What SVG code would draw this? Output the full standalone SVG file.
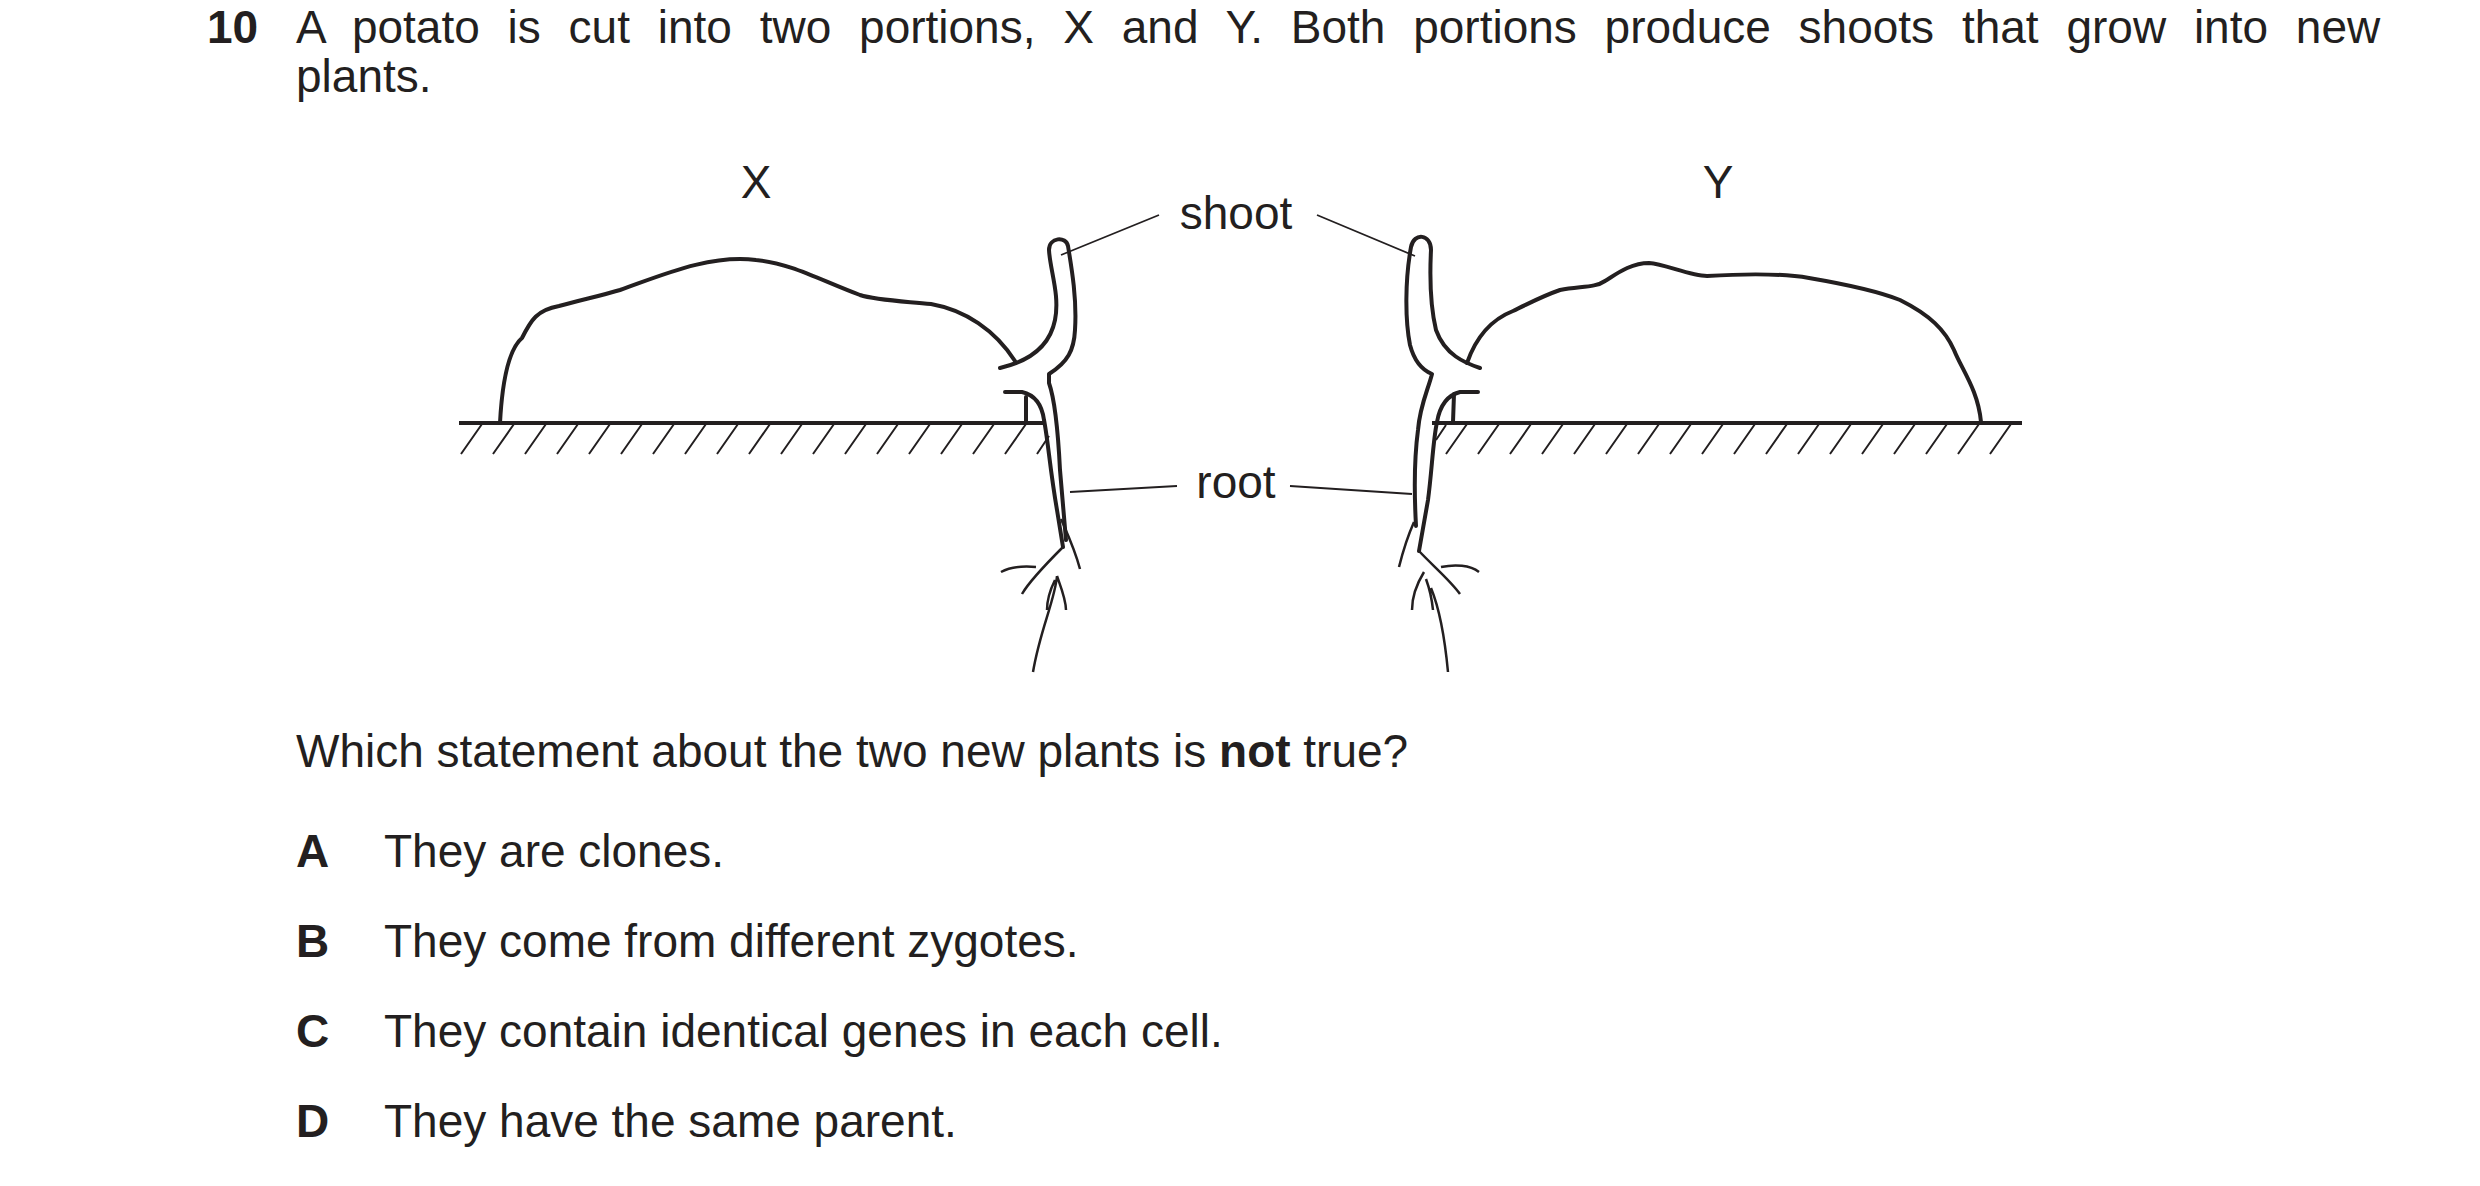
<svg xmlns="http://www.w3.org/2000/svg" width="2480" height="1186" viewBox="0 0 2480 1186">
<style>
text{font-family:"Liberation Sans",Arial,sans-serif;fill:#231f20}
.t{font-size:46px}
.l{font-size:46px}
.b{font-weight:bold}
.o{fill:none;stroke:#231f20;stroke-width:4;stroke-linejoin:round;stroke-linecap:round}
.r{fill:none;stroke:#231f20;stroke-width:2.5;stroke-linejoin:round}
.h{stroke:#231f20;stroke-width:2}
.k{stroke:#231f20;stroke-width:1.8}
</style>
<rect width="2480" height="1186" fill="#fff"/>
<g id="question">
<text class="t b" x="207" y="43">10</text>
<text class="t" x="296" y="43" word-spacing="15">A potato is cut into two portions, X and Y. Both portions produce shoots that grow into new</text>
<text class="t" x="296" y="92">plants.</text>
<text class="t" x="296" y="767">Which statement about the two new plants is <tspan class="b">not</tspan> true?</text>
<text class="t b" x="296" y="867">A</text><text class="t" x="384" y="867">They are clones.</text>
<text class="t b" x="296" y="957">B</text><text class="t" x="384" y="957">They come from different zygotes.</text>
<text class="t b" x="296" y="1047">C</text><text class="t" x="384" y="1047">They contain identical genes in each cell.</text>
<text class="t b" x="296" y="1137">D</text><text class="t" x="384" y="1137">They have the same parent.</text>
</g>
<g id="ground">
<line class="o" x1="459" y1="423" x2="1044" y2="423" style="stroke-linecap:butt"/>
<line class="o" x1="1432" y1="423" x2="2022" y2="423" style="stroke-linecap:butt"/>
<path class="h" d="M461 454l21-30M493 454l21-30M525 454l21-30M557 454l21-30M589 454l21-30M621 454l21-30M653 454l21-30M685 454l21-30M717 454l21-30M749 454l21-30M781 454l21-30M813 454l21-30M845 454l21-30M877 454l21-30M909 454l21-30M941 454l21-30M973 454l21-30M1005 454l21-30M1037 454l12-18"/>
<path class="h" d="M1436 440l10-15M1446 454l21-30M1478 454l21-30M1510 454l21-30M1542 454l21-30M1574 454l21-30M1606 454l21-30M1638 454l21-30M1670 454l21-30M1702 454l21-30M1734 454l21-30M1766 454l21-30M1798 454l21-30M1830 454l21-30M1862 454l21-30M1894 454l21-30M1926 454l21-30M1958 454l21-30M1990 454l21-30"/>
</g>
<g id="potatoX">
<text class="l" x="756" y="198" text-anchor="middle">X</text>
<path class="o" d="M500 423C502 385 508 350 522 338C531 320 537 310 559 306C585 299 600 296 620 290C660 276 710 254 756 260C790 263 820 280 860 295C875 300 900 301 931 304C965 310 995 330 1015 361"/>
<path class="o" d="M1000 368C1030 361 1050 345 1055 320C1060 295 1050 270 1049 250C1049 237 1066 236 1068 246C1072 270 1077 300 1075 330C1074 350 1068 362 1049 374L1049 383C1055 400 1058 430 1060 470L1066 540"/>
<path class="o" d="M1005 392L1022 392C1035 395 1042 405 1044 420C1048 440 1050 470 1057 510L1063 547"/>
<path class="o" d="M1026 397L1026 422"/>
</g>
<g id="potatoY">
<text class="l" x="1718" y="198" text-anchor="middle">Y</text>
<path class="o" d="M1467 363C1475 340 1490 320 1513 311C1530 303 1540 297 1560 290C1580 286 1595 288 1605 281C1615 275 1630 263 1649 263C1665 264 1690 276 1707 276C1740 274 1780 273 1809 278C1850 285 1880 292 1900 300C1930 315 1945 330 1954 350C1962 370 1978 390 1981 422"/>
<path class="o" d="M1480 368C1465 363 1445 355 1436 330C1430 305 1430 270 1431 250C1431 234 1414 232 1411 247C1405 280 1405 320 1410 345C1414 360 1422 370 1432 374C1428 390 1420 405 1418 430C1414 460 1414 490 1416 526"/>
<path class="o" d="M1478 392L1460 392C1448 395 1440 405 1437 422C1433 440 1432 470 1428 500L1419 551"/>
<path class="o" d="M1454 394L1453 422"/>
</g>
<g id="roots">
<path class="r" d="M1063 547C1050 560 1030 580 1022 594M1001 572C1012 566 1025 566 1036 567M1061 519C1068 535 1075 550 1080 569M1057 576C1055 600 1040 630 1033 672M1057 576C1062 590 1066 600 1066 610M1055 580C1050 590 1047 600 1047 610"/>
<path class="r" d="M1419 551C1432 565 1450 580 1460 594M1441 567C1455 564 1470 565 1479 572M1414 522C1406 540 1402 555 1399 567M1424 572C1416 585 1412 598 1412 610M1426 579C1430 590 1432 600 1433 610M1431 588C1440 610 1445 640 1448 672"/>
</g>
<g id="labels">
<text class="l" x="1236" y="229" text-anchor="middle">shoot</text>
<text class="l" x="1236" y="498" text-anchor="middle">root</text>
<path class="k" d="M1159 215L1061 255M1317 215L1415 256M1177 486L1070 492M1290 486L1412 494"/>
</g>
</svg>
